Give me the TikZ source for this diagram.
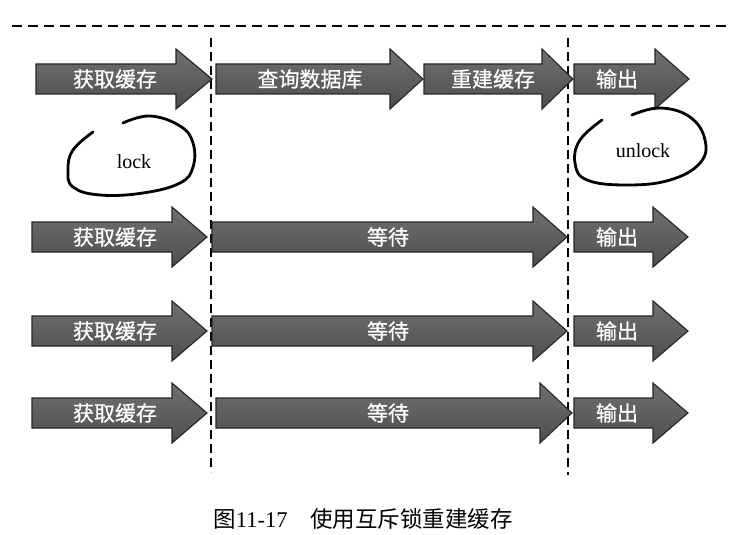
\documentclass[tikz,border=0pt]{standalone}
\usepackage{fontspec}
\newfontfamily\cjk{Noto Sans CJK SC}
\newfontfamily\cjkb[FakeBold=0.6]{Noto Sans CJK SC}
\setmainfont{Liberation Serif}
\definecolor{arrtop}{RGB}{112,112,112}
\definecolor{arrbot}{RGB}{78,78,78}
\tikzset{
  arrowbox/.style={draw=black!85, line width=1.1pt, top color=arrtop, bottom color=arrbot, line join=miter},
  arrowtxt/.style={text=white, font=\cjkb\fontsize{21}{21}\selectfont, inner sep=0pt},
  sepline/.style={line width=1.5pt, dash pattern=on 9pt off 5pt},
  topline/.style={line width=1.5pt, dash pattern=on 10pt off 6pt},
  loopline/.style={line width=2.8pt, line cap=round, line join=round},
  looptxt/.style={font=\fontsize{20}{20}\selectfont, inner sep=0pt},
  captxt/.style={font=\cjk\fontsize{22.5}{22.5}\selectfont, inner sep=0pt}
}
% name, x0, xhead, xtip, yc, text-x, text
\newcommand\garr[7]{%
  \draw[arrowbox] (#2,#5-15) -- (#3,#5-15) -- (#3,#5-30) -- (#4,#5) -- (#3,#5+30) -- (#3,#5+15) -- (#2,#5+15) -- cycle;
  \node[arrowtxt] (#1) at (#6,#5) {#7};}
\begin{document}
\begin{tikzpicture}[x=1pt,y=-1pt]
\useasboundingbox (0,0) rectangle (737,535);
% separators
\coordinate (tl) at (12,26); \coordinate (tr) at (727,26);
\draw[topline] (tl) -- (tr);
\coordinate (v1t) at (211,38); \coordinate (v1b) at (211,472);
\coordinate (v2t) at (568,38); \coordinate (v2b) at (568,475);
\draw[sepline] (v1t) -- (v1b);
\draw[sepline] (v2t) -- (v2b);
% row 1
\garr{a1}{36}{176}{212}{79}{115}{获取缓存}
\garr{b1}{216}{390}{423}{79}{310}{查询数据库}
\garr{c1}{424}{542}{573}{79}{493}{重建缓存}
\garr{d1}{574}{655}{689}{79}{617}{输出}
% lock loops
\draw[loopline] plot[smooth, tension=0.7] coordinates {(123,123) (150,116) (180,126) (193,143) (193,167) (180,183) (143,193) (100,195) (73,187) (68,170) (73,150) (93,132)};
\node[looptxt] (lock) at (134,162) {lock};
\draw[loopline] plot[smooth, tension=0.7] coordinates {(632,115) (660,108) (690,117) (705,140) (700,163) (670,180) (627,185) (587,180) (575,163) (580,140) (602,120)};
\node[looptxt] (unlock) at (643,151) {unlock};
% row 2
\garr{a2}{32}{172}{207}{237}{115}{获取缓存}
\garr{b2}{212}{533}{567}{237}{388}{等待}
\garr{d2}{574}{653}{688}{237}{617}{输出}
% row 3
\garr{a3}{32}{172}{207}{331}{115}{获取缓存}
\garr{b3}{212}{533}{567}{331}{388}{等待}
\garr{d3}{574}{653}{688}{331}{617}{输出}
% row 4
\garr{a4}{32}{172}{207}{413}{115}{获取缓存}
\garr{b4}{216}{540}{572}{413}{388}{等待}
\garr{d4}{574}{653}{688}{413}{617}{输出}
% caption
\node[captxt] (cap) at (363,519) {图{\fontspec{Liberation Serif}11-17}\hspace{1em}使用互斥锁重建缓存};
\end{tikzpicture}
\end{document}
